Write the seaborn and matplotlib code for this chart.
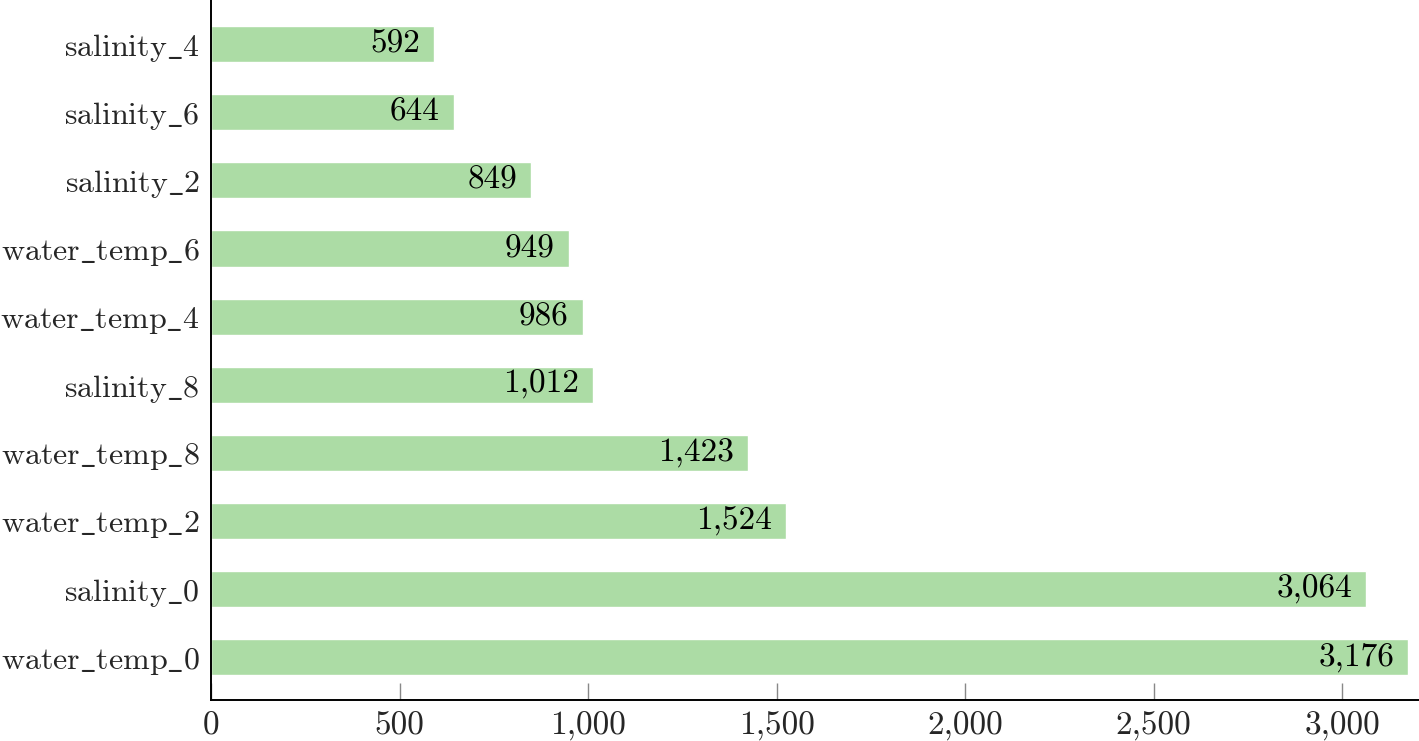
import matplotlib
matplotlib.use("Agg")
import matplotlib.pyplot as plt
import matplotlib.ticker as mticker
import seaborn as sns
import pandas as pd

# datos
features = ["salinity_4", "salinity_6", "salinity_2", "water_temp_6", "water_temp_4",
            "salinity_8", "water_temp_8", "water_temp_2", "salinity_0", "water_temp_0"]
counts = [592, 644, 849, 949, 986, 1012, 1423, 1524, 3064, 3176]

df = pd.DataFrame({"feature": features, "count": counts})

sns.set_style("white")
plt.rcParams["font.family"] = ["cmr10", "DejaVu Serif"]
plt.rcParams["mathtext.fontset"] = "cm"
plt.rcParams["axes.formatter.use_mathtext"] = True

fig = plt.figure(figsize=(14.19, 7.41), dpi=100)
ax = fig.add_axes([211 / 1419, 41 / 741, 1 - 211 / 1419, 700 / 741])

sns.barplot(data=df, x="count", y="feature", orient="h", color="#acdca5",
            saturation=1, width=0.53, ax=ax)

# etiquetas dentro de cada barra
for i, v in enumerate(counts):
    ax.annotate(f"{v:,}", xy=(v, i), xytext=(-10, 0), textcoords="offset points",
                ha="right", va="center", fontsize=24, color="black")

# guion bajo como en LaTeX
ax.set_yticks(range(len(features)))
ax.set_yticklabels([r"$\mathrm{" + f.replace("_", r"\_") + "}$" for f in features])

ax.set_xlim(0, 3204)
ax.set_ylim(9.63, -0.65)
ax.xaxis.set_major_locator(mticker.MultipleLocator(500))
ax.xaxis.set_major_formatter(mticker.FuncFormatter(lambda x, p: f"{int(x):,}"))
ax.set_xlabel("")
ax.set_ylabel("")

for s in ["top", "right"]:
    ax.spines[s].set_visible(False)
for s in ["left", "bottom"]:
    ax.spines[s].set_color("black")
    ax.spines[s].set_linewidth(1.4)

ax.tick_params(axis="x", bottom=True, direction="in", length=12, color="#888888",
               width=1.0, labelsize=24, pad=8)
ax.tick_params(axis="y", left=False, length=0, labelsize=23, pad=8)

fig.savefig("out.png", dpi=100)
